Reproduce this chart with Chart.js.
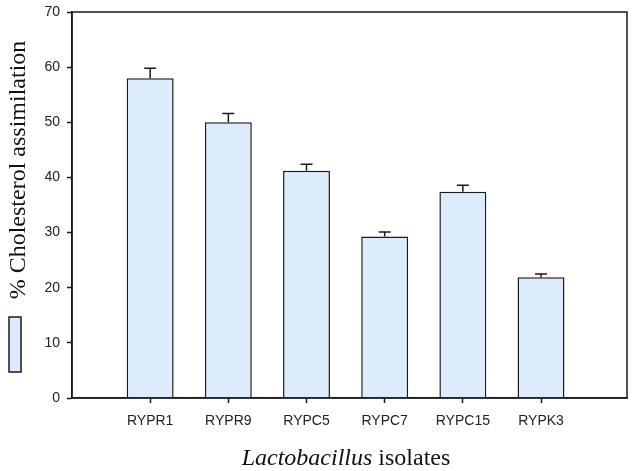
<!DOCTYPE html>
<html>
<head>
    <title>Cholesterol assimilation</title>
    <script src="https://cdn.jsdelivr.net/npm/chart.js"></script>
    <style>
        html, body { margin: 0; padding: 0; background: #fff; }
        canvas { display: block; }
    </style>
</head>
<body>
    <canvas id="barChart" width="632" height="471"></canvas>

    <script>
        // data
        const isolates = ['RYPR1', 'RYPR9', 'RYPC5', 'RYPC7', 'RYPC15', 'RYPK3'];
        const assimilation = [58.0, 50.0, 41.2, 29.3, 37.4, 21.9];
        const errors = [1.8, 1.6, 1.2, 0.8, 1.2, 0.6];
        const yTicks = [0, 10, 20, 30, 40, 50, 60, 70];

        const barFill = '#dcecfd';
        const lineColor = '#1a1a1a';

        // error bars, frame, axis titles and the lone legend box
        const decor = {
            id: 'decor',
            afterDatasetsDraw(chart) {
                const c = chart.ctx;
                const xs = chart.scales.x, ys = chart.scales.y;
                c.save();
                c.strokeStyle = lineColor;
                c.lineWidth = 1.5;
                assimilation.forEach((v, i) => {
                    const x = xs.getPixelForValue(i + 1);
                    const y0 = ys.getPixelForValue(v);
                    const y1 = ys.getPixelForValue(v + errors[i]);
                    c.beginPath();
                    c.moveTo(x, y0);
                    c.lineTo(x, y1);
                    c.moveTo(x - 6, y1);
                    c.lineTo(x + 6, y1);
                    c.stroke();
                });
                c.restore();
            },
            afterDraw(chart) {
                const c = chart.ctx;
                const a = chart.chartArea;
                c.save();
                c.strokeStyle = lineColor;
                c.lineWidth = 1.5;
                c.strokeRect(a.left, a.top, a.right - a.left, a.bottom - a.top);

                // legend swatch
                c.fillStyle = barFill;
                c.fillRect(9, 317, 12, 55);
                c.strokeRect(9, 317, 12, 55);

                // y title
                c.fillStyle = '#111';
                c.font = '24px "Liberation Serif", "Times New Roman", serif';
                c.textAlign = 'center';
                c.textBaseline = 'alphabetic';
                c.translate(25, 170);
                c.rotate(-Math.PI / 2);
                c.fillText('% Cholesterol assimilation', 0, 0);
                c.restore();

                // x title, genus in italics
                c.save();
                c.fillStyle = '#111';
                c.textBaseline = 'alphabetic';
                const f1 = 'italic 24px "Liberation Serif", "Times New Roman", serif';
                const f2 = '24px "Liberation Serif", "Times New Roman", serif';
                c.font = f1;
                const w1 = c.measureText('Lactobacillus').width;
                c.font = f2;
                const w2 = c.measureText(' isolates').width;
                let x = 346 - (w1 + w2) / 2;
                c.font = f1;
                c.fillText('Lactobacillus', x, 465);
                c.font = f2;
                c.fillText(' isolates', x + w1, 465);
                c.restore();
            }
        };

        const ctx = document.getElementById('barChart').getContext('2d');
        const chart = new Chart(ctx, {
            type: 'bar',
            data: {
                datasets: [{
                    label: '% Cholesterol assimilation',
                    data: assimilation.map((v, i) => ({ x: i + 1, y: v })),
                    backgroundColor: barFill,
                    borderColor: lineColor,
                    borderWidth: 1.5,
                    barPercentage: 0.6,
                    categoryPercentage: 1.0
                }]
            },
            options: {
                responsive: false,
                animation: false,
                layout: { padding: { top: 12, right: 5, left: 0, bottom: 0 } },
                plugins: {
                    legend: { display: false },
                    tooltip: { enabled: false }
                },
                scales: {
                    x: {
                        type: 'linear',
                        offset: false,
                        min: 0,
                        max: 7.1,
                        afterBuildTicks(scale) {
                            scale.ticks = isolates.map((n, i) => ({ value: i + 1 }));
                        },
                        afterFit(scale) { scale.height = 73; },
                        ticks: {
                            callback: (v) => isolates[v - 1],
                            color: '#222',
                            font: { family: '"Liberation Sans", Arial, sans-serif', size: 14 },
                            padding: 10,
                            maxRotation: 0,
                            autoSkip: false
                        },
                        grid: {
                            offset: false,
                            drawOnChartArea: false,
                            tickLength: 5,
                            tickColor: lineColor,
                            tickWidth: 1.5
                        },
                        border: { color: lineColor, width: 1.5 }
                    },
                    y: {
                        min: 0,
                        max: 70,
                        afterBuildTicks(scale) {
                            scale.ticks = yTicks.map(v => ({ value: v }));
                        },
                        afterFit(scale) {
                            scale.width = 72;
                            scale.paddingTop = 0;
                            scale.paddingBottom = 0;
                        },
                        ticks: {
                            color: '#222',
                            font: { family: '"Liberation Sans", Arial, sans-serif', size: 14 },
                            padding: 7
                        },
                        grid: {
                            drawOnChartArea: false,
                            tickLength: 5,
                            tickColor: lineColor,
                            tickWidth: 1.5
                        },
                        border: { color: lineColor, width: 1.5 }
                    }
                }
            },
            plugins: [decor]
        });
    </script>
</body>
</html>
